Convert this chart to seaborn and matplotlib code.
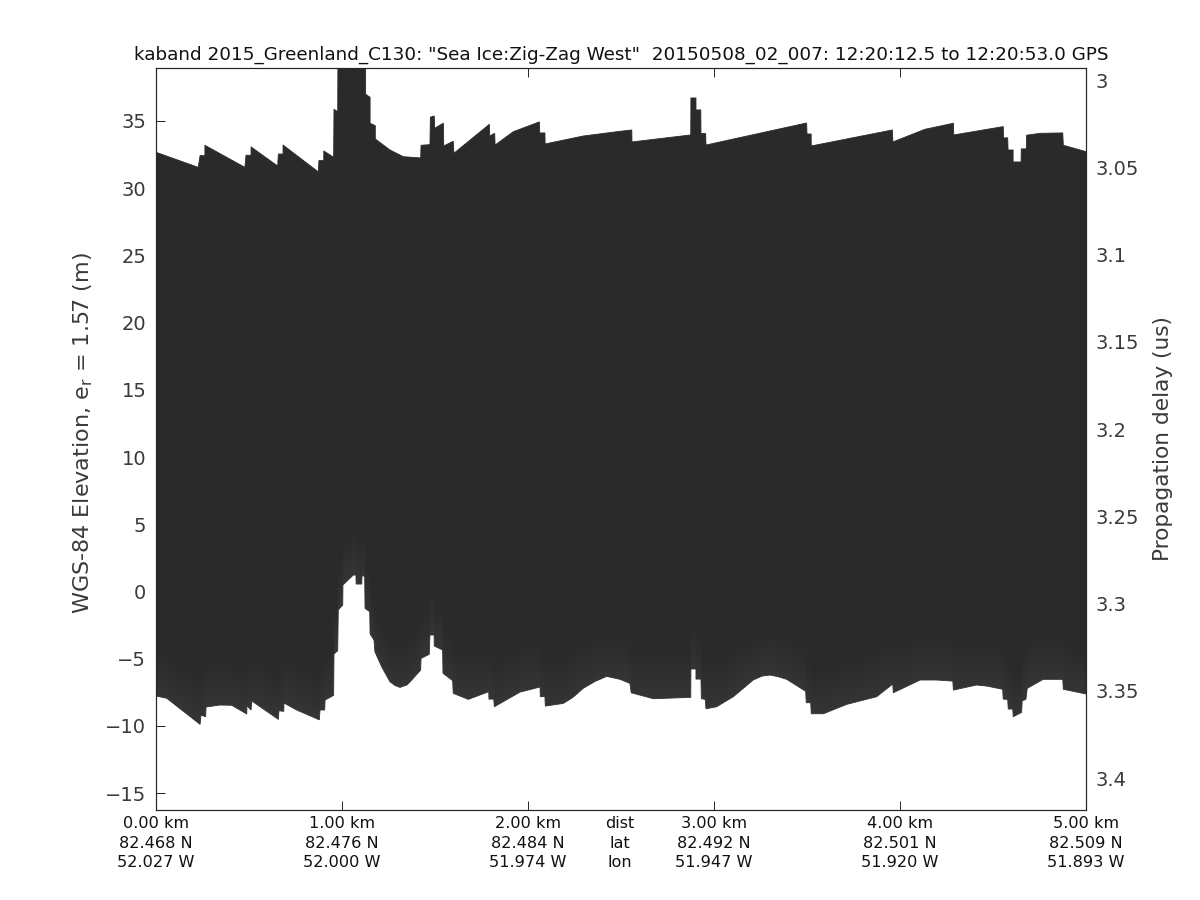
# -*- coding: utf-8 -*-
import matplotlib
matplotlib.use('Agg')
import matplotlib.pyplot as plt
import numpy as np
import seaborn as sns

# upper edge of the echogram: distance (km), elevation (m)
top_km = [0, .227, .237, .263, .263, .478, .484, .511, .511, .654, .658, .683, .683, .873,
          .876, .902, .902, .955, .957, .977, .978, 1.127, 1.127, 1.151, 1.151, 1.179, 1.179,
          1.258, 1.330, 1.423, 1.425, 1.473, 1.475, 1.496, 1.498, 1.545, 1.547, 1.598, 1.602,
          1.792, 1.794, 1.821, 1.823, 1.921, 2.061, 2.063, 2.091, 2.092, 2.297, 2.495, 2.558,
          2.559, 2.875, 2.876, 2.903, 2.903, 2.929, 2.930, 2.955, 2.957, 3.498, 3.500, 3.522,
          3.523, 3.959, 3.962, 4.134, 4.287, 4.289, 4.555, 4.557, 4.579, 4.581, 4.608, 4.608,
          4.651, 4.652, 4.679, 4.681, 4.753, 4.875, 4.878, 5.0]
top_elev = [32.67, 31.55, 32.42, 32.42, 33.19, 31.55, 32.45, 32.45, 33.07, 31.65, 32.54, 32.54,
            33.21, 31.21, 32.05, 32.05, 32.77, 32.30, 35.87, 35.69, 39.5, 39.5, 36.99, 36.76,
            34.83, 34.65, 33.66, 32.84, 32.34, 32.25, 33.19, 33.24, 35.28, 35.37, 34.46, 34.83,
            33.14, 33.49, 32.60, 34.75, 33.88, 34.08, 33.21, 34.20, 34.93, 34.11, 34.11, 33.29,
            33.88, 34.23, 34.33, 33.44, 33.96, 36.71, 36.71, 35.82, 35.82, 34.06, 34.06, 33.21,
            34.85, 34.03, 34.03, 33.14, 34.33, 33.44, 34.38, 34.83, 33.96, 34.58, 33.74, 33.74,
            32.84, 32.84, 31.95, 31.95, 32.92, 32.92, 33.94, 34.08, 34.11, 33.19, 32.72]

# lower edge of the echogram
bottom_km = [0, .058, .237, .242, .267, .269, .344, .407, .488, .489, .511, .515, .658, .661,
             .687, .688, .756, .878, .882, .907, .909, .955, .957, .977, .980, 1.004, 1.005,
             1.061, 1.075, 1.076, 1.106, 1.108, 1.122, 1.124, 1.149, 1.151, 1.172, 1.177, 1.213,
             1.258, 1.285, 1.312, 1.350, 1.375, 1.423, 1.425, 1.469, 1.473, 1.495, 1.496, 1.541,
             1.543, 1.595, 1.598, 1.679, 1.789, 1.790, 1.816, 1.819, 1.957, 2.065, 2.066, 2.091,
             2.093, 2.190, 2.240, 2.297, 2.360, 2.423, 2.495, 2.548, 2.555, 2.674, 2.817, 2.875,
             2.876, 2.903, 2.903, 2.930, 2.932, 2.953, 2.957, 3.014, 3.104, 3.211, 3.258, 3.301,
             3.344, 3.391, 3.493, 3.496, 3.520, 3.523, 3.588, 3.714, 3.875, 3.961, 3.964, 4.108,
             4.197, 4.284, 4.287, 4.412, 4.466, 4.552, 4.555, 4.579, 4.582, 4.606, 4.609, 4.654,
             4.657, 4.677, 4.684, 4.770, 4.875, 4.878, 5.0]
bottom_elev = [-7.78, -7.95, -9.89, -9.20, -9.32, -8.60, -8.45, -8.47, -9.12, -8.50, -8.82, -8.15,
               -9.52, -8.88, -8.92, -8.30, -8.82, -9.55, -8.82, -8.82, -8.08, -7.73, -4.66, -4.41,
               -1.38, -1.01, 0.48, 1.22, 1.22, 0.55, 0.55, 1.22, 1.09, -1.26, -1.51, -3.17, -3.62,
               -4.49, -5.60, -6.72, -7.00, -7.14, -6.95, -6.59, -5.85, -4.98, -4.68, -3.24, -3.24,
               -4.06, -4.36, -6.09, -6.64, -7.58, -8.03, -7.46, -8.01, -8.01, -8.58, -7.49, -7.11,
               -7.83, -7.83, -8.53, -8.33, -7.90, -7.21, -6.70, -6.32, -6.54, -6.84, -7.54, -7.98,
               -7.91, -7.88, -5.77, -5.77, -6.52, -6.52, -7.98, -8.03, -8.73, -8.58, -7.83, -6.59,
               -6.30, -6.22, -6.34, -6.54, -7.43, -8.28, -8.28, -9.10, -9.10, -8.40, -7.83, -6.89,
               -7.54, -6.59, -6.59, -6.67, -7.34, -6.96, -7.04, -7.28, -8.01, -8.03, -8.75, -8.75,
               -9.32, -9.00, -8.13, -8.03, -7.21, -6.54, -6.54, -7.28, -7.63]

elev_ticks = [-15, -10, -5, 0, 5, 10, 15, 20, 25, 30, 35]
delay_ticks = [3, 3.05, 3.1, 3.15, 3.2, 3.25, 3.3, 3.35, 3.4]
delay_labels = ['3', '3.05', '3.1', '3.15', '3.2', '3.25', '3.3', '3.35', '3.4']

dist_ticks = [0, 1, 2, 3, 4, 5]
dist_labels = ['0.00 km', '1.00 km', '2.00 km', '3.00 km', '4.00 km', '5.00 km']
lat_labels = ['82.468 N', '82.476 N', '82.484 N', '82.492 N', '82.501 N', '82.509 N']
lon_labels = ['52.027 W', '52.000 W', '51.974 W', '51.947 W', '51.920 W', '51.893 W']

title = 'kaband 2015_Greenland_C130: "Sea Ice:Zig-Zag West"  20150508_02_007: 12:20:12.5 to 12:20:53.0 GPS'

sns.set_theme(style='ticks')
plt.rcParams['font.family'] = ['DejaVu Sans']
plt.rcParams['mathtext.default'] = 'regular'

ink = '#262626'
echo = '#2a2a2a'

fig = plt.figure(figsize=(12, 9), dpi=100)
ax = fig.add_axes([156 / 1200, 90 / 900, 930 / 1200, 742 / 900])

top_km = np.array(top_km)
top_elev = np.array(top_elev)
bottom_km = np.array(bottom_km)
bottom_elev = np.array(bottom_elev)

ax.fill(np.r_[top_km, bottom_km[::-1]], np.r_[top_elev, bottom_elev[::-1]],
        color=echo, lw=0)

# the echo gets a bit brighter close to the lower edge
for rise in [0.3, 0.6, 0.9, 1.2, 1.5, 1.8, 2.1, 2.4, 2.7, 3.0]:
    ax.fill(np.r_[bottom_km, bottom_km[::-1]], np.r_[bottom_elev, bottom_elev[::-1] + rise],
            color='white', alpha=0.007, lw=0)

sns.lineplot(x=top_km, y=top_elev, sort=False, estimator=None, color=echo, lw=0.6, ax=ax)
sns.lineplot(x=bottom_km, y=bottom_elev, sort=False, estimator=None, color='#333333', lw=0.6, ax=ax)

ax.set_xlim(0, 5)
ax.set_ylim(-16.26, 38.94)
ax.set_xticks(dist_ticks)
ax.set_xticklabels([d + '\n' + la + '\n' + lo
                    for d, la, lo in zip(dist_labels, lat_labels, lon_labels)])
ax.set_yticks(elev_ticks)
ax.tick_params(axis='x', direction='in', length=6.5, width=0.7, color=ink, top=True,
               labelsize=11.6, labelcolor='#111111', pad=4.5)
ax.tick_params(axis='y', direction='in', length=6.5, width=0.7, color=ink, right=True,
               labelsize=14, labelcolor='#3a3a3a', pad=7)
for label in ax.get_xticklabels():
    label.set_linespacing(1.38)

ax.annotate('dist\nlat\nlon', xy=(2.495, 0), xycoords=ax.get_xaxis_transform(),
            xytext=(0, -4.5), textcoords='offset points', ha='center', va='top',
            fontsize=11.6, color='#111111', linespacing=1.38)

ax.set_ylabel(r'WGS-84 Elevation, e$_{r}$ = 1.57 (m)', fontsize=16, color='#3a3a3a',
              labelpad=7.5, y=0.508)
ax.set_title(title, fontsize=13.2, color='#111111', pad=6)

# delay axis only carries labels, the tick marks on the right belong to elevation
ax2 = ax.twinx()
ax2.set_ylim(3.4183, 2.9931)
ax2.set_yticks(delay_ticks)
ax2.set_yticklabels(delay_labels)
ax2.tick_params(axis='y', length=0, labelsize=14, labelcolor='#3a3a3a', pad=7)
ax2.set_ylabel('Propagation delay (us)', fontsize=15.6, color='#3a3a3a', labelpad=10)

for a in (ax, ax2):
    for spine in a.spines.values():
        spine.set_visible(True)
        spine.set_linewidth(0.8)
        spine.set_color(ink)

fig.savefig('out.png', dpi=100)
